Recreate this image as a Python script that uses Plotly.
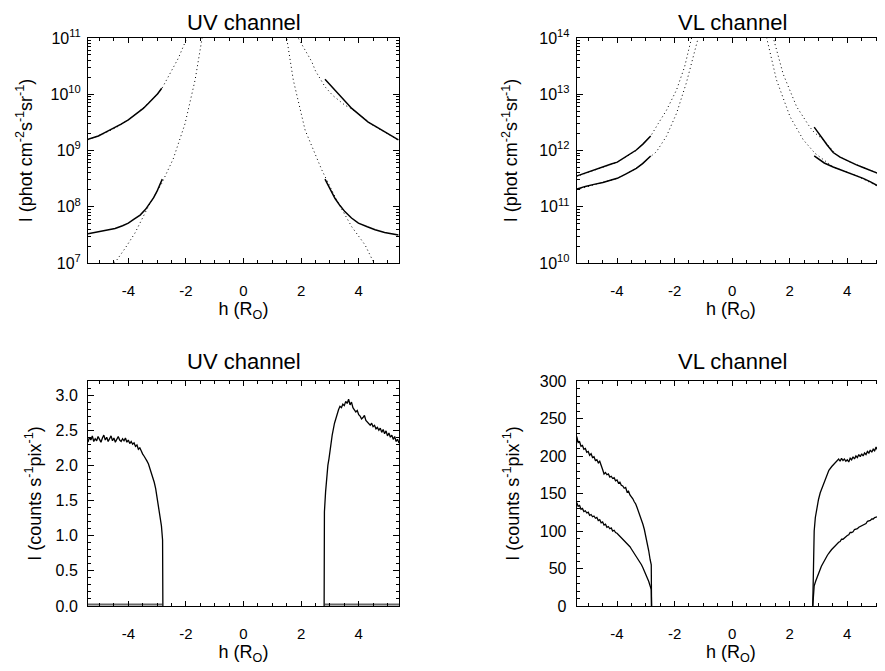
import plotly.graph_objects as go

# ---------------- Top-left: UV channel, intensity (phot cm^-2 s^-1 sr^-1) ----------------
uv_hi_left_h = [-5.40, -5.20, -5.04, -4.80, -4.49, -4.25, -4.00, -3.75, -3.48, -3.30, -3.13, -2.98, -2.84]
uv_hi_left_i = [1.58e9, 1.70e9, 1.81e9, 2.10e9, 2.50e9, 2.95e9, 3.5e9, 4.4e9, 5.6e9, 6.9e9, 8.5e9, 1.02e10, 1.28e10]
uv_hi_right_h = [2.83, 3.00, 3.18, 3.45, 3.76, 4.05, 4.33, 4.60, 4.91, 5.15, 5.38]
uv_hi_right_i = [1.85e10, 1.48e10, 1.19e10, 8.2e9, 5.6e9, 4.2e9, 3.2e9, 2.65e9, 2.16e9, 1.80e9, 1.54e9]
uv_lo_left_h = [-5.40, -5.04, -4.75, -4.46, -4.20, -4.00, -3.80, -3.59, -3.40, -3.25, -3.12, -3.01, -2.90, -2.82]
uv_lo_left_i = [3.3e7, 3.6e7, 3.85e7, 4.1e7, 4.6e7, 5.1e7, 6.0e7, 7.1e7, 9.0e7, 1.15e8, 1.45e8, 1.85e8, 2.4e8, 3.1e8]
uv_lo_right_h = [2.83, 3.00, 3.18, 3.35, 3.52, 3.75, 3.99, 4.30, 4.57, 4.90, 5.15, 5.38]
uv_lo_right_i = [3.1e8, 2.05e8, 1.4e8, 1.05e8, 8.2e7, 6.3e7, 5.1e7, 4.4e7, 3.9e7, 3.5e7, 3.3e7, 3.15e7]
# model curves (dotted)
uv_mod_hi_left_h = [-5.40, -4.80, -4.40, -4.00, -3.50, -3.13, -2.84, -2.61, -2.44, -2.26, -2.10, -1.97, -1.85]
uv_mod_hi_left_i = [1.55e9, 2.05e9, 2.6e9, 3.5e9, 5.6e9, 8.4e9, 1.25e10, 2.05e10, 2.9e10, 4.4e10, 6.9e10, 1.0e11, 1.35e11]
uv_mod_hi_right_h = [1.85, 1.90, 2.10, 2.37, 2.50, 2.83, 3.10, 3.52, 3.76, 4.10, 4.50, 5.00, 5.40]
uv_mod_hi_right_i = [1.35e11, 1.0e11, 6.6e10, 3.8e10, 2.6e10, 1.36e10, 9.5e9, 6.4e9, 5.5e9, 4.0e9, 2.8e9, 2.0e9, 1.5e9]
uv_mod_lo_left_h = [-4.60, -4.40, -4.11, -3.77, -3.31, -2.84, -2.44, -2.03, -1.68, -1.45, -1.40]
uv_mod_lo_left_i = [9.0e6, 1.13e7, 1.83e7, 3.4e7, 1.0e8, 2.6e8, 7.1e8, 3.0e9, 1.8e10, 1.0e11, 1.3e11]
uv_mod_lo_right_h = [1.42, 1.50, 1.73, 2.14, 2.72, 3.24, 3.76, 4.22, 4.51, 4.60]
uv_mod_lo_right_i = [1.3e11, 1.0e11, 1.78e10, 2.3e9, 4.5e8, 1.3e8, 4.4e7, 2.1e7, 1.05e7, 9.0e6]

# ---------------- Top-right: VL channel, intensity ----------------
vl_hi_left_h = [-5.41, -5.10, -4.80, -4.49, -4.20, -3.99, -3.70, -3.50, -3.33, -3.10, -2.95, -2.83]
vl_hi_left_i = [3.5e11, 4.0e11, 4.5e11, 5.2e11, 5.75e11, 6.2e11, 7.6e11, 8.8e11, 1.02e12, 1.3e12, 1.55e12, 1.81e12]
vl_lo_left_h = [-5.41, -5.10, -4.80, -4.49, -4.20, -3.99, -3.70, -3.50, -3.33, -3.10, -2.95, -2.83]
vl_lo_left_i = [2.04e11, 2.3e11, 2.5e11, 2.7e11, 3.0e11, 3.2e11, 3.8e11, 4.3e11, 4.8e11, 5.9e11, 6.9e11, 8.0e11]
vl_hi_right_h = [2.85, 3.00, 3.15, 3.30, 3.51, 3.75, 4.01, 4.30, 4.55, 4.79, 5.05, 5.31]
vl_hi_right_i = [2.6e12, 2.0e12, 1.6e12, 1.25e12, 9.2e11, 7.6e11, 6.5e11, 5.6e11, 5.0e11, 4.5e11, 4.0e11, 3.5e11]
vl_lo_right_h = [2.85, 3.00, 3.20, 3.51, 3.75, 4.01, 4.30, 4.55, 4.79, 5.05, 5.31]
vl_lo_right_i = [8.0e11, 7.0e11, 6.0e11, 5.1e11, 4.6e11, 4.1e11, 3.6e11, 3.2e11, 2.8e11, 2.4e11, 2.0e11]
# model curves (dotted)
vl_mod_a_left_h = [-5.41, -4.49, -3.99, -3.33, -2.83, -2.57, -2.28, -1.93, -1.65, -1.41, -1.36]
vl_mod_a_left_i = [3.45e11, 5.1e11, 6.2e11, 1.0e12, 1.8e12, 3.0e12, 5.2e12, 1.2e13, 3.1e13, 1.0e14, 1.25e14]
vl_mod_b_left_h = [-5.41, -4.49, -3.99, -3.33, -2.83, -2.63, -2.28, -1.93, -1.59, -1.30, -1.18, -1.14]
vl_mod_b_left_i = [2.0e11, 2.7e11, 3.2e11, 4.8e11, 8.0e11, 9.5e11, 1.8e12, 4.6e12, 1.6e13, 6.1e13, 1.0e14, 1.2e14]
vl_mod_a_right_h = [1.38, 1.43, 1.77, 2.24, 2.70, 2.85, 3.17, 3.63, 4.01, 4.55, 5.31]
vl_mod_a_right_i = [1.25e14, 1.0e14, 2.3e13, 6.0e12, 2.6e12, 2.1e12, 1.55e12, 8.3e11, 6.5e11, 5.0e11, 3.5e11]
vl_mod_b_right_h = [1.16, 1.20, 1.54, 2.01, 2.47, 2.88, 3.51, 4.30, 5.31]
vl_mod_b_right_i = [1.2e14, 1.0e14, 1.8e13, 4.0e12, 1.55e12, 8.9e11, 5.1e11, 3.6e11, 2.0e11]

# ---------------- Bottom-left: UV channel, counts s^-1 pix^-1 ----------------
uvc_left_h = [-5.40, -5.35, -5.30, -5.25, -5.20, -5.15, -5.10, -5.05, -5.00, -4.95, -4.90, -4.85, -4.80,
              -4.75, -4.70, -4.65, -4.60, -4.55, -4.50, -4.45, -4.40, -4.35, -4.30, -4.25, -4.20, -4.15,
              -4.10, -4.05, -4.00, -3.95, -3.90, -3.85, -3.80, -3.75, -3.70, -3.65, -3.60, -3.55, -3.50,
              -3.45, -3.40, -3.35, -3.30, -3.25, -3.20, -3.15, -3.10, -3.05, -3.00, -2.95, -2.90, -2.85,
              -2.81, -2.80]
uvc_left_c = [2.33, 2.40, 2.36, 2.42, 2.34, 2.38, 2.35, 2.41, 2.37, 2.33, 2.39, 2.43, 2.36,
              2.40, 2.34, 2.38, 2.42, 2.35, 2.39, 2.33, 2.37, 2.41, 2.36, 2.34, 2.38, 2.35,
              2.39, 2.33, 2.36, 2.31, 2.34, 2.30, 2.32, 2.27, 2.29, 2.23, 2.25, 2.19, 2.16,
              2.13, 2.10, 2.06, 2.02, 1.96, 1.90, 1.84, 1.76, 1.67, 1.55, 1.42, 1.30, 1.14,
              0.94, 0.0]
uvc_right_h = [2.80, 2.81, 2.85, 2.89, 2.93, 2.97, 3.02, 3.08, 3.16, 3.24, 3.30, 3.35, 3.40, 3.45, 3.50,
               3.55, 3.60, 3.65, 3.70, 3.75, 3.80, 3.85, 3.90, 3.95, 4.00, 4.05, 4.10, 4.15, 4.20,
               4.25, 4.30, 4.35, 4.40, 4.45, 4.50, 4.55, 4.60, 4.65, 4.70, 4.75, 4.80, 4.85, 4.90,
               4.95, 5.00, 5.05, 5.10, 5.15, 5.20, 5.25, 5.30, 5.35, 5.40]
uvc_right_c = [0.0, 1.34, 1.62, 1.86, 2.00, 2.10, 2.27, 2.43, 2.60, 2.72, 2.79, 2.84, 2.82, 2.87, 2.85,
               2.91, 2.88, 2.94, 2.86, 2.90, 2.82, 2.79, 2.76, 2.78, 2.72, 2.70, 2.66, 2.68, 2.71,
               2.64, 2.62, 2.59, 2.57, 2.60, 2.55, 2.57, 2.52, 2.54, 2.50, 2.53, 2.47, 2.51, 2.45,
               2.49, 2.42, 2.46, 2.40, 2.43, 2.37, 2.41, 2.34, 2.37, 2.32]
uvc_low_left_h = [-5.40, -4.90, -4.60, -4.20, -3.90, -3.60, -3.20, -2.82]
uvc_low_left_c = [0.02, 0.02, 0.02, 0.03, 0.02, 0.02, 0.02, 0.02]
uvc_low_right_h = [2.82, 3.30, 3.80, 4.00, 4.30, 4.80, 5.40]
uvc_low_right_c = [0.02, 0.02, 0.02, 0.02, 0.03, 0.03, 0.02]

# ---------------- Bottom-right: VL channel, counts s^-1 pix^-1 ----------------
vlc_hi_left_h = [-5.40, -5.35, -5.30, -5.25, -5.20, -5.15, -5.10, -5.05, -5.00, -4.95, -4.90, -4.85, -4.80,
                 -4.75, -4.70, -4.65, -4.60, -4.55, -4.50, -4.45, -4.40, -4.35, -4.30, -4.25, -4.20, -4.15,
                 -4.10, -4.05, -4.00, -3.95, -3.90, -3.85, -3.80, -3.75, -3.70, -3.65, -3.60, -3.55, -3.50,
                 -3.45, -3.40, -3.35, -3.30, -3.25, -3.20, -3.15, -3.10, -3.05, -3.00, -2.95, -2.90, -2.85,
                 -2.81, -2.80]
vlc_hi_left_c = [226, 218, 219, 213, 214, 209, 210, 205, 206, 201, 203, 198, 199,
                 194, 195, 191, 193, 186, 182, 176, 178, 175, 176, 172, 173, 170,
                 171, 167, 168, 164, 165, 161, 160, 157, 158, 152, 153, 148, 146,
                 143, 139, 136, 131, 126, 121, 115, 109, 102, 94, 85, 74, 62,
                 55, 0]
vlc_lo_left_h = vlc_hi_left_h
vlc_lo_left_c = [138, 133, 134, 129, 130, 126, 127, 124, 125, 121, 122, 119, 120,
                 117, 118, 114, 115, 111, 112, 108, 109, 105, 106, 103, 104, 100,
                 101, 98, 97, 95, 94, 91, 90, 87, 86, 83, 81, 79, 76,
                 73, 70, 68, 65, 62, 58, 55, 51, 47, 43, 38, 33, 27,
                 22, 0]
vlc_hi_right_h = [2.80, 2.82, 2.85, 2.89, 2.94, 3.00, 3.06, 3.12, 3.20, 3.28, 3.36, 3.46, 3.55, 3.62,
                  3.70, 3.75, 3.80, 3.85, 3.90, 3.95, 4.00, 4.05, 4.10, 4.15, 4.20, 4.25, 4.30, 4.35,
                  4.40, 4.45, 4.50, 4.55, 4.60, 4.65, 4.70, 4.75, 4.80, 4.85, 4.90, 4.95, 5.00, 5.05,
                  5.10, 5.15, 5.20, 5.25, 5.30, 5.35]
vlc_hi_right_c = [0, 77, 100, 118, 130, 142, 151, 157, 167, 175, 181, 186, 190, 193,
                  196, 193, 197, 194, 196, 193, 195, 192, 197, 195, 199, 196, 200, 198,
                  202, 199, 203, 200, 204, 202, 206, 204, 208, 205, 209, 207, 212, 208,
                  214, 211, 216, 213, 218, 216]
vlc_lo_right_h = [2.80, 2.82, 2.85, 2.90, 2.95, 3.00, 3.05, 3.10, 3.15, 3.20, 3.25, 3.30, 3.35, 3.40,
                  3.45, 3.50, 3.55, 3.60, 3.65, 3.70, 3.75, 3.80, 3.85, 3.90, 3.95, 4.00, 4.05, 4.10,
                  4.15, 4.20, 4.25, 4.30, 4.35, 4.40, 4.45, 4.50, 4.55, 4.60, 4.65, 4.70, 4.75, 4.80,
                  4.85, 4.90, 4.95, 5.00, 5.05, 5.10, 5.15, 5.20, 5.25, 5.30, 5.35]
vlc_lo_right_c = [0, 22, 27, 33, 39, 44, 48, 53, 57, 61, 64, 67, 70, 73,
                  75, 77, 79, 82, 83, 85, 86, 89, 89, 91, 93, 94, 95, 98,
                  98, 99, 102, 102, 103, 105, 106, 107, 109, 109, 110, 113, 113, 114,
                  116, 116, 118, 118, 119, 121, 121, 123, 123, 124, 125]

# ---------------- Axis tick labels ----------------
x_tickvals = [-4, -2, 0, 2, 4]
x_ticktext = ["-4", "-2", "0", "2", "4"]
uv_log_tickvals = [1e7, 1e8, 1e9, 1e10, 1e11]
uv_log_ticktext = ["10<sup>7</sup>", "10<sup>8</sup>", "10<sup>9</sup>", "10<sup>10</sup>", "10<sup>11</sup>"]
vl_log_tickvals = [1e10, 1e11, 1e12, 1e13, 1e14]
vl_log_ticktext = ["10<sup>10</sup>", "10<sup>11</sup>", "10<sup>12</sup>", "10<sup>13</sup>", "10<sup>14</sup>"]
uvc_tickvals = [0.0, 0.5, 1.0, 1.5, 2.0, 2.5, 3.0]
uvc_ticktext = ["0.0", "0.5", "1.0", "1.5", "2.0", "2.5", "3.0"]
vlc_tickvals = [0, 50, 100, 150, 200, 250, 300]
vlc_ticktext = ["0", "50", "100", "150", "200", "250", "300"]

titles = ["UV channel", "VL channel", "UV channel", "VL channel"]
x_title = "h (R<sub>O</sub>)"
y_title_top = "I (phot cm<sup>-2</sup>s<sup>-1</sup>sr<sup>-1</sup>)"
y_title_bot = "I (counts s<sup>-1</sup>pix<sup>-1</sup>)"

FONT = "Liberation Sans, Arial, Helvetica, sans-serif"
OFF = 8  # page body margin in the browser
W, H = 885 - OFF, 671 - OFF

fig = go.Figure()

solid = dict(color="black", width=1.5)
dotted = dict(color="black", width=1, dash="1px,3px")
thin = dict(color="black", width=1.3)
grey = dict(color="#666666", width=2)


def add(x, y, line, xa, ya):
    fig.add_trace(go.Scatter(x=x, y=y, mode="lines", line=line, xaxis=xa, yaxis=ya,
                             showlegend=False, hoverinfo="skip"))


# top-left
add(uv_mod_hi_left_h, uv_mod_hi_left_i, dotted, "x", "y")
add(uv_mod_hi_right_h, uv_mod_hi_right_i, dotted, "x", "y")
add(uv_mod_lo_left_h, uv_mod_lo_left_i, dotted, "x", "y")
add(uv_mod_lo_right_h, uv_mod_lo_right_i, dotted, "x", "y")
add(uv_hi_left_h, uv_hi_left_i, solid, "x", "y")
add(uv_hi_right_h, uv_hi_right_i, solid, "x", "y")
add(uv_lo_left_h, uv_lo_left_i, solid, "x", "y")
add(uv_lo_right_h, uv_lo_right_i, solid, "x", "y")
# top-right
add(vl_mod_a_left_h, vl_mod_a_left_i, dotted, "x2", "y2")
add(vl_mod_b_left_h, vl_mod_b_left_i, dotted, "x2", "y2")
add(vl_mod_a_right_h, vl_mod_a_right_i, dotted, "x2", "y2")
add(vl_mod_b_right_h, vl_mod_b_right_i, dotted, "x2", "y2")
add(vl_hi_left_h, vl_hi_left_i, solid, "x2", "y2")
add(vl_lo_left_h, vl_lo_left_i, solid, "x2", "y2")
add(vl_hi_right_h, vl_hi_right_i, solid, "x2", "y2")
add(vl_lo_right_h, vl_lo_right_i, solid, "x2", "y2")
# bottom-left
add(uvc_low_left_h, uvc_low_left_c, grey, "x3", "y3")
add(uvc_low_right_h, uvc_low_right_c, grey, "x3", "y3")
add(uvc_left_h, uvc_left_c, thin, "x3", "y3")
add(uvc_right_h, uvc_right_c, thin, "x3", "y3")
# bottom-right
add(vlc_hi_left_h, vlc_hi_left_c, thin, "x4", "y4")
add(vlc_lo_left_h, vlc_lo_left_c, thin, "x4", "y4")
add(vlc_hi_right_h, vlc_hi_right_c, thin, "x4", "y4")
add(vlc_lo_right_h, vlc_lo_right_c, thin, "x4", "y4")


def px_x(p):
    return (p - OFF) / W


def px_y(p):
    return 1 - (p - OFF) / H


# domains in screen pixels
left_x = [px_x(88), px_x(399)]
right_x = [px_x(576.7), 1.0]
top_y = [px_y(263), px_y(38)]
bot_y = [px_y(606), px_y(381)]

tickfont = dict(family=FONT, size=15, color="black")
titlefont = dict(family=FONT, size=18, color="black")


def xaxis(domain, anchor, rng):
    return dict(domain=domain, anchor=anchor, range=rng, showline=True, linecolor="black",
                linewidth=1, mirror="ticks", ticks="inside", ticklen=5, tickcolor="black",
                tickvals=x_tickvals, ticktext=x_ticktext, tickfont=tickfont,
                ticklabelstandoff=14, showgrid=False, zeroline=False, automargin=False,
                minor=dict(dtick=0.5, tick0=0, ticks="inside", ticklen=3, tickcolor="black",
                           showgrid=False),
                title=dict(text=x_title, font=titlefont, standoff=4))


def ylog(domain, anchor, decades, tv, tt, standoff):
    minor_vals = [k * 10.0 ** e for e in range(decades[0], decades[1]) for k in range(2, 10)]
    return dict(domain=domain, anchor=anchor, type="log", range=list(decades),
                showline=True, linecolor="black", linewidth=1, mirror="ticks", ticks="inside",
                ticklen=6, tickcolor="black", tickvals=tv, ticktext=tt,
                tickfont=dict(family=FONT, size=16, color="black"),
                ticklabelstandoff=3, showgrid=False, zeroline=False, automargin=False,
                minor=dict(tickvals=minor_vals, ticks="inside", ticklen=3, tickcolor="black",
                           showgrid=False),
                title=dict(text=y_title_top, font=titlefont, standoff=standoff))


def ylin(domain, anchor, rng, tv, tt, mdt, standoff):
    return dict(domain=domain, anchor=anchor, range=rng, showline=True, linecolor="black",
                linewidth=1, mirror="ticks", ticks="inside", ticklen=6, tickcolor="black",
                tickvals=tv, ticktext=tt, tickfont=dict(family=FONT, size=16, color="black"),
                ticklabelstandoff=6, showgrid=False, zeroline=False, automargin=False,
                minor=dict(dtick=mdt, tick0=0, ticks="inside", ticklen=3, tickcolor="black",
                           showgrid=False),
                title=dict(text=y_title_bot, font=titlefont, standoff=standoff))


fig.update_layout(
    width=W, height=H, margin=dict(l=0, r=0, t=0, b=0),
    paper_bgcolor="white", plot_bgcolor="white",
    font=dict(family=FONT, color="black"),
    xaxis=xaxis(left_x, "y", [-5.4, 5.4]),
    yaxis=ylog(top_y, "x", (7, 11), uv_log_tickvals, uv_log_ticktext, 13),
    xaxis2=xaxis(right_x, "y2", [-5.4, 5.31]),
    yaxis2=ylog(top_y, "x2", (10, 14), vl_log_tickvals, vl_log_ticktext, 16),
    xaxis3=xaxis(left_x, "y3", [-5.4, 5.4]),
    yaxis3=ylin(bot_y, "x3", [0, 3.2], uvc_tickvals, uvc_ticktext, 0.1, 9),
    xaxis4=xaxis(right_x, "y4", [-5.4, 5.31]),
    yaxis4=ylin(bot_y, "x4", [0, 300], vlc_tickvals, vlc_ticktext, 10, 15),
)

title_pos = [(244, 22), (732, 22), (244, 361), (732, 361)]
for t, (sx, sy) in zip(titles, title_pos):
    fig.add_annotation(text=t, x=px_x(sx), y=px_y(sy), xref="paper", yref="paper", showarrow=False,
                       xanchor="center", yanchor="middle", borderpad=0,
                       font=dict(family=FONT, size=22, color="black"))

fig.write_html("out.html")
